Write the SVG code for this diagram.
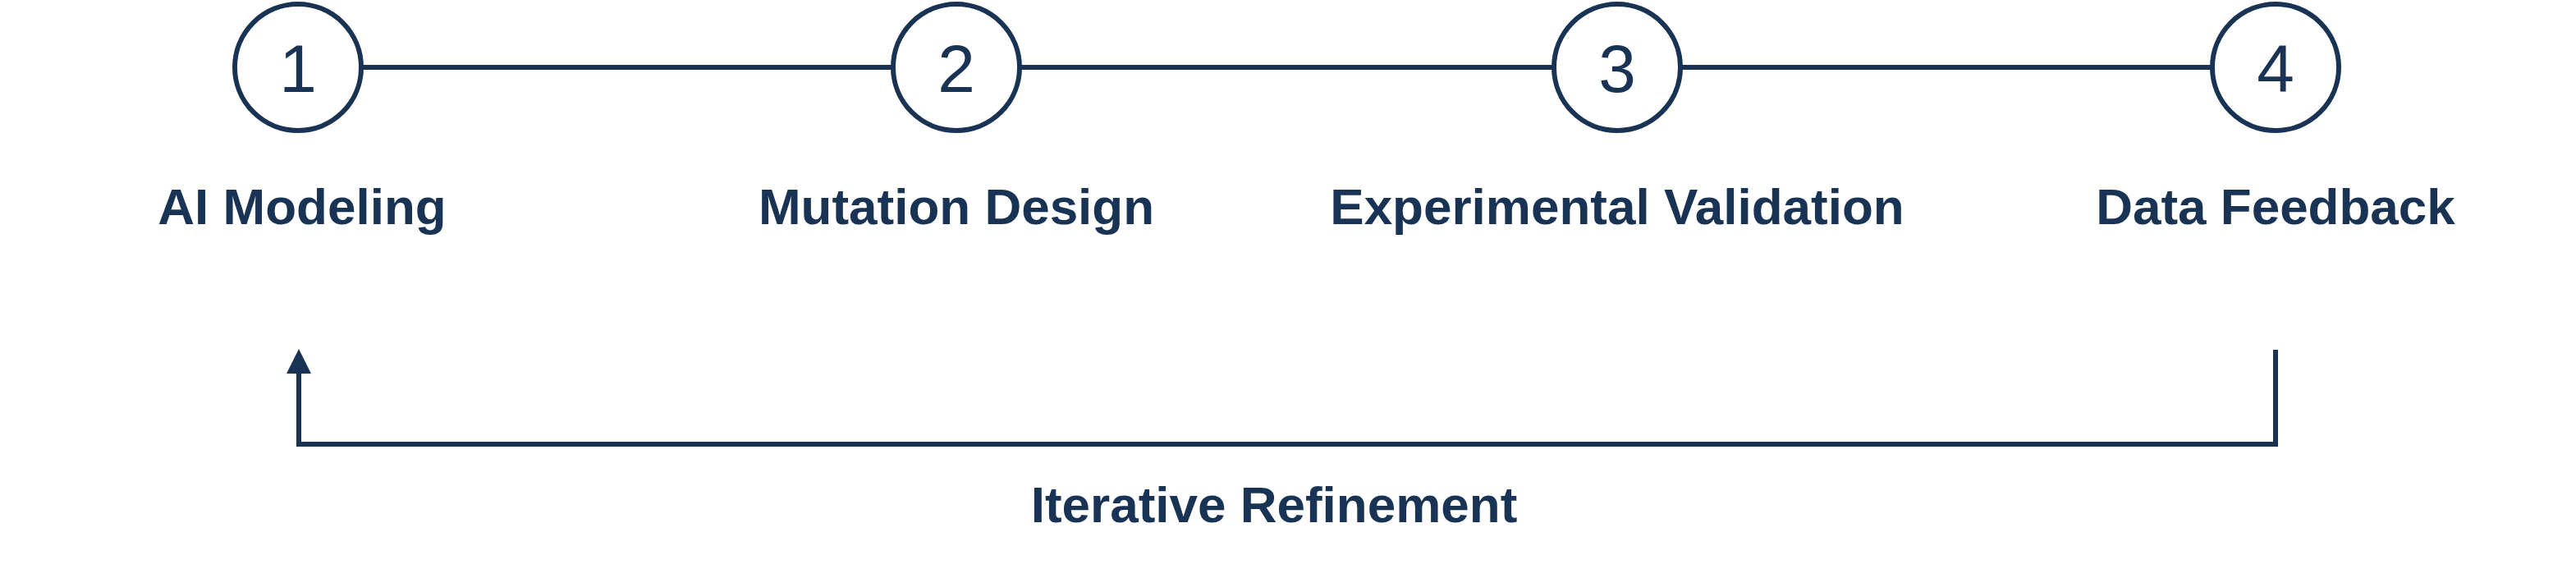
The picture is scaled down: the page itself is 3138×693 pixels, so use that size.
<svg xmlns="http://www.w3.org/2000/svg" width="3138" height="693" viewBox="0 0 3138 693">
<style>
.c{fill:#fff;stroke:#193354;stroke-width:6}
.n{font-family:"Liberation Sans",Arial,sans-serif;font-size:82px;fill:#193354;text-anchor:middle}
.l{font-family:"Liberation Sans",Arial,sans-serif;font-size:62px;font-weight:bold;fill:#193354;text-anchor:middle}
.ln{stroke:#193354;stroke-width:6;fill:none}
</style>
<defs><marker id="a" markerWidth="5" markerHeight="5" refX="0" refY="2.5" orient="auto" markerUnits="strokeWidth"><path d="M0,0L5,2.5L0,5z" fill="#193354"/></marker></defs>
<rect width="3138" height="693" fill="#fff"/>
<g id="connectors">
<line class="ln" x1="362" y1="82" x2="2772" y2="82"/>
<path class="ln" stroke-width="7" d="M2772,426V541H364V455" marker-end="url(#a)"/>
</g>
<g id="n1"><circle class="c" cx="363" cy="82" r="77"/><text class="n" x="363" y="112">1</text><text class="l" x="368" y="273">AI Modeling</text></g>
<g id="n2"><circle class="c" cx="1165" cy="82" r="77"/><text class="n" x="1165" y="112">2</text><text class="l" x="1165" y="273">Mutation Design</text></g>
<g id="n3"><circle class="c" cx="1970" cy="82" r="77"/><text class="n" x="1970" y="112">3</text><text class="l" x="1970" y="273">Experimental Validation</text></g>
<g id="n4"><circle class="c" cx="2772" cy="82" r="77"/><text class="n" x="2772" y="112">4</text><text class="l" x="2772" y="273">Data Feedback</text></g>
<text class="l" x="1552" y="636">Iterative Refinement</text>
</svg>
